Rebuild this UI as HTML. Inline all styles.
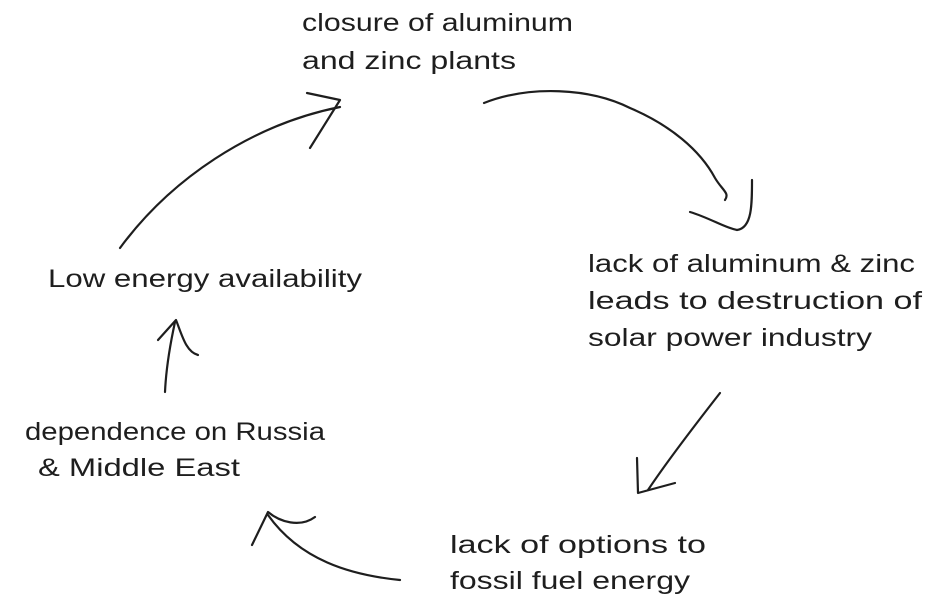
<!DOCTYPE html>
<html><head><meta charset="utf-8"><style>
html,body{margin:0;padding:0;background:#fff;}
svg{display:block;}
text{font-family:"Liberation Sans",sans-serif;font-size:25px;fill:#1e1e1e;}
path{fill:none;stroke:#1e1e1e;stroke-width:2.2;stroke-linecap:round;stroke-linejoin:round;}
</style></head><body>
<svg width="948" height="613" viewBox="0 0 948 613" xmlns="http://www.w3.org/2000/svg">
<text x="302" y="31" textLength="271" lengthAdjust="spacingAndGlyphs">closure of aluminum</text>
<text x="302" y="69" textLength="214" lengthAdjust="spacingAndGlyphs">and zinc plants</text>
<text x="588" y="272" textLength="327" lengthAdjust="spacingAndGlyphs">lack of aluminum &amp; zinc</text>
<text x="588" y="309" textLength="334" lengthAdjust="spacingAndGlyphs">leads to destruction of</text>
<text x="588" y="346" textLength="284" lengthAdjust="spacingAndGlyphs">solar power industry</text>
<text x="450" y="553" textLength="256" lengthAdjust="spacingAndGlyphs">lack of options to</text>
<text x="450" y="589" textLength="240" lengthAdjust="spacingAndGlyphs">fossil fuel energy</text>
<text x="25" y="440" textLength="300" lengthAdjust="spacingAndGlyphs">dependence on Russia</text>
<text x="38" y="476" textLength="202" lengthAdjust="spacingAndGlyphs">&amp; Middle East</text>
<text x="48" y="287" textLength="314" lengthAdjust="spacingAndGlyphs">Low energy availability</text>

<path d="M484 103 C530 85 590 88 630 108 C670 125 700 150 715 178 C722 190 730 193 725 200"/>
<path d="M690 212 C710 218 725 228 737 230 C752 228 752 205 752 180"/>

<path d="M720 393 C695 425 668 460 648 490"/>
<path d="M637 458 L638 493 L675 483"/>

<path d="M400 580 C350 575 300 560 268 515"/>
<path d="M252 545 L268 512 C280 522 300 528 315 517"/>

<path d="M165 392 C166 370 170 345 175 322"/>
<path d="M158 340 L176 320 C182 335 186 352 198 355"/>

<path d="M120 248 C170 180 250 125 340 107"/>
<path d="M307 93 L340 100 L310 148"/>
</svg>
</body></html>
